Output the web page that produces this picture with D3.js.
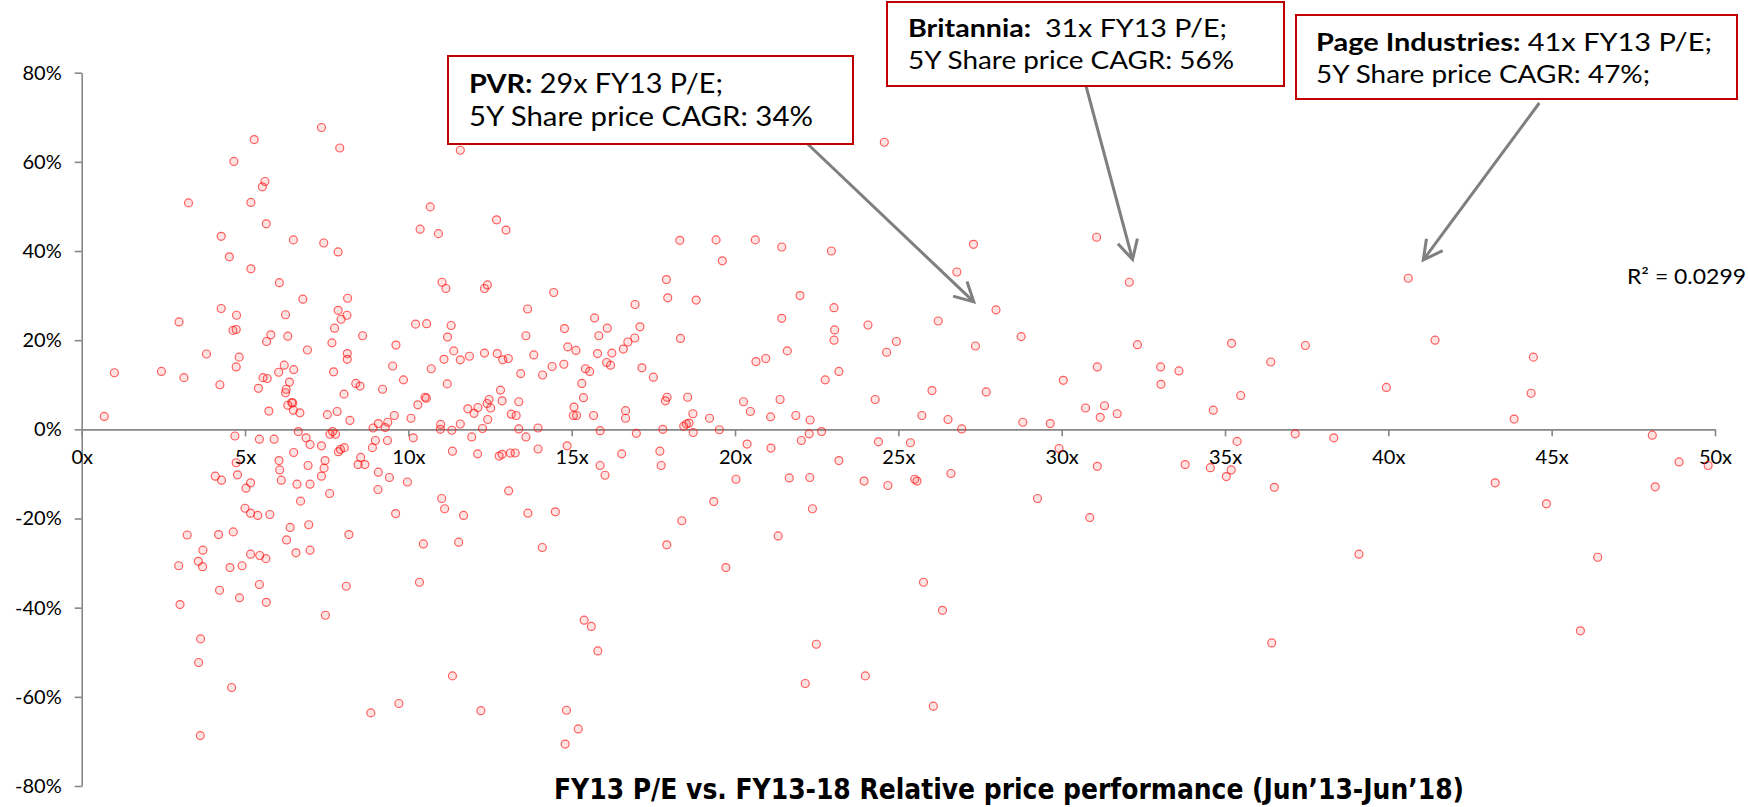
<!DOCTYPE html>
<html>
<head>
<meta charset="utf-8">
<script src="https://cdn.jsdelivr.net/npm/d3@7"></script>
<style>
  body { margin: 0; background: #ffffff; }
  svg { display: block; }
</style>
</head>
<body>
<svg id="chart" width="1748" height="807"></svg>
<script>
// ---------- DATA (FY13 P/E multiple, 5Y relative price performance %) ----------
const xTicks = [0, 5, 10, 15, 20, 25, 30, 35, 40, 45, 50];
const yTicks = [-80, -60, -40, -20, 0, 20, 40, 60, 80];
const xTickLabels = ["0x","5x","10x","15x","20x","25x","30x","35x","40x","45x","50x"];
const yTickLabels = ["-80%","-60%","-40%","-20%","0%","20%","40%","60%","80%"];

// stocks with P/E 0-11x, positive performance
const lowPEGainers = [[0.69,2.9],[1.0,12.7],[2.44,13.0],[3.13,11.6],[2.98,24.1],[3.27,50.8],[3.82,16.9],[4.23,10.0],[4.27,27.1],[4.27,43.3],[4.52,38.7],[4.66,60.1],[4.63,22.2],[4.73,22.4],[4.74,25.6],[4.82,16.2],[4.73,14.0],[5.18,50.9],[5.18,36.0],[5.28,65.0],[5.53,54.4],[5.61,55.6],[5.65,46.1],[5.41,9.2],[5.55,11.6],[5.68,11.4],[5.73,4.1],[5.66,19.7],[5.79,21.2],[6.05,32.9],[6.03,12.8],[6.24,25.7],[6.20,14.4],[6.31,20.9],[6.49,13.4],[6.36,10.6],[6.26,9.0],[6.24,8.2],[6.31,5.4],[6.43,6.0],[6.46,5.9],[6.48,4.3],[6.48,42.5],[6.77,29.2],[6.91,17.8],[6.68,3.7],[7.34,67.7],[7.41,41.8],[7.85,39.8],[7.90,63.1],[7.52,3.3],[7.82,4.0],[7.71,12.9],[7.66,19.4],[7.74,22.7],[7.85,26.7],[7.94,24.7],[8.12,25.6],[8.14,29.4],[8.13,17.0],[8.13,15.7],[8.03,7.9],[8.21,2.0],[8.39,10.3],[8.52,9.7],[8.60,21.0],[9.21,9.0],[9.52,14.2],[9.62,18.9],[9.85,11.1],[9.57,3.1],[9.37,1.6],[9.08,1.3],[8.92,0.3],[9.29,0.4],[10.08,2.5],[10.29,5.5],[10.51,7.2],[10.55,7.0],[10.22,23.6],[10.56,23.7],[10.36,44.9],[10.67,49.9],[10.92,43.9],[11.03,33.0],[11.15,31.6],[11.09,15.7],[11.20,20.7],[11.19,10.2],[10.70,13.6],[10.99,1.1],[10.98,0.0]];

// stocks with P/E 0-11x, negative performance
const lowPELosers = [[4.69,-1.5],[5.44,-2.2],[5.89,-2.2],[6.63,-0.5],[6.87,-1.9],[6.99,-3.4],[7.34,-3.7],[7.60,-1.1],[7.68,-0.5],[7.77,-1.1],[7.86,-5.0],[7.92,-4.5],[8.04,-4.1],[8.90,-4.1],[8.99,-2.5],[9.36,-2.5],[10.15,-1.9],[4.73,-7.5],[4.77,-10.2],[4.09,-10.5],[4.28,-11.4],[5.03,-13.2],[5.17,-12.0],[6.04,-7.0],[6.06,-9.1],[6.11,-11.4],[6.49,-5.2],[6.93,-8.1],[6.59,-12.3],[6.99,-12.3],[7.45,-7.0],[7.42,-8.7],[7.34,-10.5],[6.70,-16.1],[7.59,-14.4],[8.46,-7.9],[8.54,-6.3],[8.67,-7.9],[9.08,-9.6],[9.07,-13.5],[9.42,-10.8],[9.97,-11.8],[5.00,-17.7],[5.17,-18.8],[5.39,-19.3],[5.76,-19.1],[9.61,-18.9],[11.02,-15.5],[11.11,-17.8],[3.23,-23.7],[4.19,-23.6],[4.64,-23.0],[6.95,-21.4],[6.38,-22.0],[6.27,-24.8],[6.56,-27.7],[6.99,-27.1],[8.18,-23.6],[3.71,-27.1],[2.97,-30.6],[3.57,-29.6],[3.70,-30.8],[4.54,-31.0],[4.91,-30.6],[5.17,-28.0],[5.45,-28.3],[5.64,-29.0],[10.46,-25.7],[5.44,-34.8],[4.22,-36.1],[4.83,-37.8],[5.65,-38.8],[8.10,-35.2],[10.34,-34.3],[3.01,-39.3],[7.46,-41.7],[3.64,-47.0],[3.58,-52.3],[4.59,-57.9],[8.85,-63.6],[9.71,-61.5],[3.63,-68.7]];

// stocks with P/E 11-24x, positive performance
const midPEGainers = [[11.59,62.6],[12.70,47.0],[12.99,44.7],[11.31,23.3],[11.39,17.6],[11.59,15.6],[11.87,16.4],[12.33,17.1],[12.33,31.6],[12.42,32.4],[12.72,17.0],[12.89,15.6],[13.06,15.9],[13.65,27.0],[13.60,21.0],[13.84,16.7],[13.44,12.5],[14.45,30.7],[14.78,22.6],[14.88,18.5],[15.13,17.7],[14.76,14.6],[14.40,14.1],[14.11,12.2],[15.70,25.0],[15.83,21.0],[16.09,22.7],[15.79,17.0],[16.23,17.1],[16.07,15.0],[16.19,14.4],[15.42,13.6],[15.55,13.0],[15.31,10.3],[15.36,7.1],[15.07,5.0],[15.05,3.1],[15.15,3.1],[15.67,3.1],[16.94,28.0],[17.09,23.0],[16.93,20.5],[16.72,19.6],[16.58,18.0],[17.15,13.8],[17.50,11.7],[16.65,4.2],[16.65,2.5],[17.90,33.6],[17.94,29.5],[18.31,42.4],[19.42,42.5],[19.61,37.8],[18.81,29.0],[18.33,20.4],[17.92,7.2],[17.87,6.4],[18.55,7.2],[18.71,3.5],[18.59,1.4],[18.51,1.2],[18.43,0.7],[17.79,0.0],[19.22,2.5],[20.62,42.5],[21.43,40.9],[22.95,40.0],[21.99,30.0],[23.03,27.3],[21.43,24.9],[23.05,22.3],[23.03,20.0],[21.60,17.6],[20.64,15.2],[20.94,15.9],[22.76,11.1],[23.18,13.0],[20.26,6.2],[20.47,4.0],[21.38,6.7],[21.09,2.8],[21.86,3.1],[22.30,2.1],[11.59,1.2],[11.82,4.6],[12.01,3.6],[12.13,4.9],[12.41,5.8],[12.47,6.7],[12.52,4.8],[12.82,8.8],[12.87,6.4],[13.38,6.2],[13.15,3.4],[13.30,3.1],[12.43,2.2],[12.27,0.2],[13.38,0.1],[13.97,0.3]];

// stocks with P/E 11-24x, negative performance
const midPELosers = [[11.35,-4.9],[11.33,-0.2],[11.94,-1.7],[13.60,-1.7],[12.12,-5.5],[12.78,-6.0],[12.87,-5.6],[13.12,-5.3],[13.27,-5.3],[13.97,-4.4],[14.86,-3.7],[15.87,-0.3],[15.87,-8.1],[16.02,-10.3],[16.53,-5.5],[16.98,-0.9],[17.70,-4.9],[17.74,-8.1],[18.72,-0.7],[19.52,-0.1],[20.37,-3.3],[20.03,-11.2],[21.10,-4.2],[22.03,-2.5],[22.27,-1.0],[22.65,-0.5],[21.66,-10.9],[22.29,-10.8],[23.18,-7.0],[22.37,-17.8],[23.95,-11.6],[21.32,-23.9],[19.35,-16.2],[18.37,-20.5],[17.91,-25.9],[19.72,-31.0],[13.07,-13.8],[11.69,-19.3],[13.66,-18.8],[14.50,-18.5],[11.54,-25.3],[14.10,-26.5],[15.38,-42.8],[15.60,-44.2],[15.80,-49.7],[22.49,-48.2],[22.15,-57.0],[11.35,-55.3],[12.22,-63.1],[14.84,-63.0],[15.20,-67.2],[14.80,-70.6]];

// stocks with P/E 24-37x
const highPEGainers = [[24.57,64.4],[27.30,41.5],[26.79,35.3],[31.07,43.1],[32.07,33.0],[27.99,26.8],[26.22,24.3],[24.07,23.4],[24.94,19.7],[24.64,17.3],[27.36,18.7],[28.76,20.8],[32.32,19.0],[35.20,19.3],[36.40,15.1],[31.09,14.0],[33.03,14.0],[33.59,13.1],[33.04,10.1],[30.05,11.0],[24.29,6.7],[26.03,8.7],[27.69,8.4],[25.72,3.1],[26.52,2.2],[26.94,0.1],[28.81,1.6],[29.65,1.3],[30.73,4.8],[31.31,5.3],[31.18,2.7],[31.70,3.5],[34.64,4.3],[35.48,7.6]];
const highPELosers = [[24.39,-2.8],[25.37,-3.0],[29.92,-4.3],[31.09,-8.3],[33.78,-7.9],[34.55,-8.6],[35.19,-9.1],[35.04,-10.6],[35.37,-2.7],[36.51,-13.0],[24.68,-12.6],[25.50,-11.2],[25.57,-11.6],[26.61,-9.9],[29.26,-15.5],[30.86,-19.8],[25.77,-34.3],[26.35,-40.6],[36.43,-47.9],[23.99,-55.3],[26.07,-62.1]];

// stocks with P/E above 37x
const veryHighPE = [[40.61,33.9],[37.46,18.8],[41.43,20.0],[44.44,16.2],[39.94,9.4],[44.37,8.1],[43.85,2.3],[37.15,-1.0],[38.33,-1.9],[48.08,-1.3],[43.27,-12.0],[44.84,-16.7],[48.90,-7.3],[49.79,-8.1],[48.17,-12.9],[39.10,-28.0],[46.41,-28.7],[45.88,-45.2]];

// call-out boxes (text) and the data point each arrow targets
const calloutNames = ["PVR:", "Britannia:  ", "Page Industries:"];
const calloutLine1 = [" 29x FY13 P/E;", "31x FY13 P/E;", " 41x FY13 P/E;"];
const calloutLine2 = ["5Y Share price CAGR: 34%", "5Y Share price CAGR: 56%", "5Y Share price CAGR: 47%;"];
const calloutTargetPE = [27.31, 32.17, 41.07];
const calloutTargetPerf = [28.6, 38.1, 38.0];

const r2Label = "R\u00B2 = 0.0299";
const chartTitle = "FY13 P/E vs. FY13-18 Relative price performance (Jun\u201913-Jun\u201918)";

// ---------- LAYOUT ----------
const FONT = "Lato, 'Noto Sans', sans-serif";
const AXIS_COLOR = "#878787";
const svg = d3.select("#chart");
svg.append("rect").attr("width", 1748).attr("height", 807).attr("fill", "#fff");

const x = d3.scaleLinear().domain([0, 50]).range([81.7, 1715]);
const y = d3.scaleLinear().domain([-80, 80]).range([786, 72.7]);

function styleAxis(g) {
  g.select(".domain").attr("stroke", AXIS_COLOR).attr("stroke-width", 1.6);
  g.selectAll(".tick line").attr("stroke", AXIS_COLOR).attr("stroke-width", 1.6);
  g.selectAll(".tick text").attr("fill", "#000").attr("font-size", 20).attr("font-family", FONT);
}

const yAxis = svg.append("g")
  .attr("transform", `translate(${x(0)},0)`)
  .call(d3.axisLeft(y).tickValues(yTicks).tickSize(7).tickSizeOuter(0).tickPadding(13)
    .tickFormat((d, i) => yTickLabels[i]));
styleAxis(yAxis);

const xAxis = svg.append("g")
  .attr("transform", `translate(0,${y(0)})`)
  .call(d3.axisBottom(x).tickValues(xTicks).tickSize(7).tickSizeOuter(0).tickPadding(13)
    .tickFormat((d, i) => xTickLabels[i]));
styleAxis(xAxis);

// ---------- POINTS ----------
const allPoints = [].concat(lowPEGainers, lowPELosers, midPEGainers, midPELosers,
                            highPEGainers, highPELosers, veryHighPE);
svg.append("g").selectAll("circle").data(allPoints).join("circle")
  .attr("cx", d => x(d[0]))
  .attr("cy", d => y(d[1]))
  .attr("r", 4)
  .attr("fill", "rgba(255,0,0,0.11)")
  .attr("stroke", "rgba(255,20,20,0.68)")
  .attr("stroke-width", 1.15);

// R squared label
svg.append("text").attr("x", 1627).attr("y", 284)
  .attr("font-family", FONT).attr("font-size", 21).attr("fill", "#000")
  .attr("textLength", 119).attr("lengthAdjust", "spacingAndGlyphs")
  .text(r2Label);

// ---------- CALL-OUTS ----------
const boxes = [
  {x0: 448, y0: 56, w: 405, h: 88, tx: 469, b1: 93, b2: 126, fs: 26, l1: 254, l2: 344, sx: 807.7, sy: 144},
  {x0: 887, y0: 2, w: 397, h: 84, tx: 908, b1: 37, b2: 68.5, fs: 25, l1: 319, l2: 326, sx: 1086, sy: 86},
  {x0: 1296, y0: 15, w: 441, h: 84, tx: 1316, b1: 51, b2: 82.5, fs: 25, l1: 396, l2: 334, sx: 1539.3, sy: 103}
];
const ARROW = "#7f7f7f";
boxes.forEach((b, i) => {
  const tipX = x(calloutTargetPE[i]), tipY = y(calloutTargetPerf[i]);
  const ang = Math.atan2(tipY - b.sy, tipX - b.sx);
  const L = 21.5, spread = 28 * Math.PI / 180;
  const a1 = ang + Math.PI - spread, a2 = ang + Math.PI + spread;
  const ag = svg.append("g").attr("stroke", ARROW).attr("stroke-width", 3).attr("fill", "none")
    .attr("stroke-linecap", "butt");
  ag.append("line").attr("x1", b.sx).attr("y1", b.sy).attr("x2", tipX).attr("y2", tipY);
  ag.append("path")
    .attr("d", `M${tipX + L * Math.cos(a1)},${tipY + L * Math.sin(a1)} L${tipX},${tipY} L${tipX + L * Math.cos(a2)},${tipY + L * Math.sin(a2)}`)
    .attr("stroke-linejoin", "miter");

  svg.append("rect").attr("x", b.x0).attr("y", b.y0).attr("width", b.w).attr("height", b.h)
    .attr("fill", "#fff").attr("stroke", "#c00000").attr("stroke-width", 2);
  const t1 = svg.append("text").attr("x", b.tx).attr("y", b.b1)
    .attr("font-family", FONT).attr("font-size", b.fs).attr("fill", "#000")
    .style("white-space", "pre")
    .attr("textLength", b.l1).attr("lengthAdjust", "spacingAndGlyphs");
  t1.append("tspan").attr("font-weight", "bold").text(calloutNames[i]);
  t1.append("tspan").text(calloutLine1[i]);
  svg.append("text").attr("x", b.tx).attr("y", b.b2)
    .attr("font-family", FONT).attr("font-size", b.fs).attr("fill", "#000")
    .attr("textLength", b.l2).attr("lengthAdjust", "spacingAndGlyphs")
    .text(calloutLine2[i]);
});

// ---------- TITLE ----------
svg.append("text").attr("x", 554).attr("y", 799)
  .attr("font-family", "'Liberation Sans Narrow', 'DejaVu Sans Condensed', 'Roboto', sans-serif")
  .attr("font-weight", "bold").attr("font-size", 28).attr("fill", "#000")
  .attr("textLength", 910).attr("lengthAdjust", "spacingAndGlyphs")
  .text(chartTitle);
</script>
</body>
</html>
